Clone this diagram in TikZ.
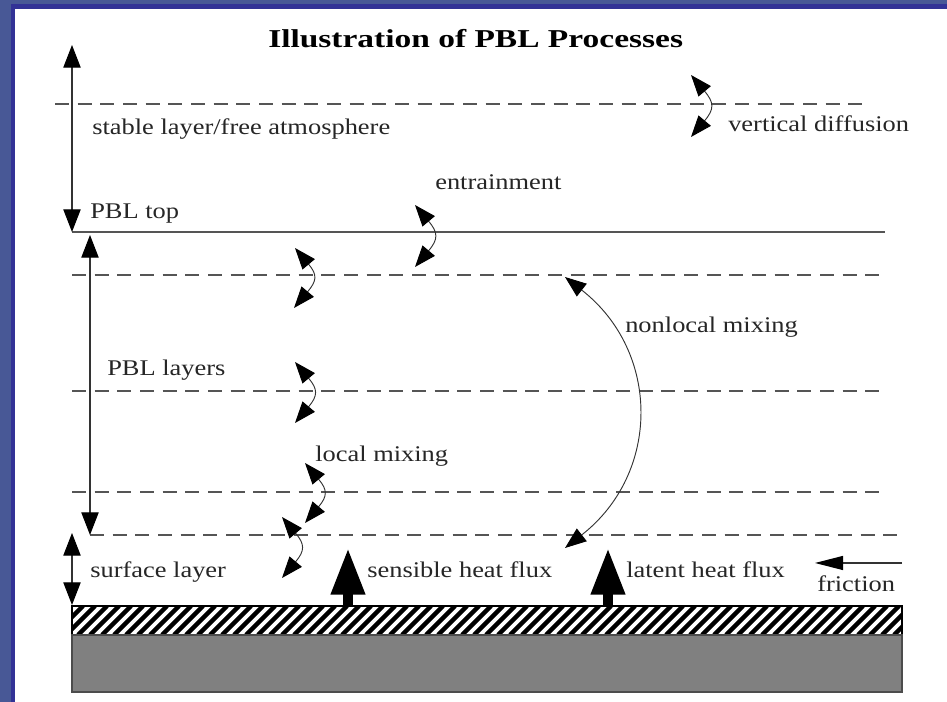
\documentclass[tikz,border=0pt]{standalone}
\usepackage{fontspec}
\setmainfont[FakeStretch=1.18]{Liberation Serif}
\newfontfamily\titlefont[FakeStretch=1.3]{Liberation Serif}
\usetikzlibrary{arrows.meta}
\definecolor{slideblue}{RGB}{72,88,150}
\definecolor{frameblue}{RGB}{50,50,150}
\definecolor{linegray}{RGB}{85,85,85}
\definecolor{groundgray}{RGB}{128,128,128}

\begin{document}
\begin{tikzpicture}[x=0.75pt,y=0.75pt,
    txt/.style={anchor=base west, inner sep=0pt, text=black!85,
      font=\fontsize{16.8}{20}\selectfont},
    dashline/.style={draw=linegray, line width=0.9pt, dash pattern=on 10.5pt off 6.5pt},
    bigspan/.style={draw=black!80, line width=0.8pt,
      {Triangle[length=17pt,width=13pt,color=black]}-{Triangle[length=17pt,width=13pt,color=black]}},
    mix/.style={draw=black!80, line width=0.7pt, out=-50, in=50, looseness=1.5,
      {Triangle[length=16pt,width=12pt,color=black]}-{Triangle[length=16pt,width=12pt,color=black]}},
    flux/.style={draw=black, line width=7.5pt, -{Triangle[length=35pt,width=24pt]}},
    drag/.style={draw=black!80, line width=0.8pt, -{Triangle[length=21pt,width=10.5pt,color=black]}}]
  % slide frame
  \useasboundingbox (0,0) rectangle (947,702);
  \fill[slideblue] (0,0) rectangle (947,702);
  \fill[frameblue] (11,0) rectangle (947,698);
  \fill[white] (15,0) rectangle (947,693);

  % ground
  \begin{scope}
    \clip (72,67) rectangle (902,96);
    \foreach \x in {30,42,...,910}
      \draw[line width=3.4pt] (\x,67) -- ++(29,29);
  \end{scope}
  \draw[line width=0.8pt] (72,67) rectangle (902,96);
  \filldraw[fill=groundgray, draw=black!70, line width=0.8pt] (72,10) rectangle (902,67);

  % layer lines
  \foreach \y/\a/\b in {598/55/868, 427/72/885, 311/72/885, 210/72/885, 167/90/903}
    \draw[dashline] (\a,\y) -- (\b,\y);
  \draw[linegray, line width=0.9pt] (72,470) -- (885,470);

  % labels
  \node[anchor=base west, inner sep=0pt, text=black,
    font=\titlefont\bfseries\fontsize{19.3}{23}\selectfont] (title) at (268,654)
    {Illustration of PBL Processes};
  \begin{scope}[every node/.style={txt}]
    \node (stable) at (92,567) {stable layer/free atmosphere};
    \node (vdiff) at (728,570) {vertical diffusion};
    \node (entr) at (435,512) {entrainment};
    \node (top) at (90,483) {PBL top};
    \node (nonlocal) at (625,369) {nonlocal mixing};
    \node (layers) at (107,326) {PBL layers};
    \node (local) at (315,240) {local mixing};
    \node (surface) at (90,124) {surface layer};
    \node (sensible) at (367,124) {sensible heat flux};
    \node (latent) at (626,124) {latent heat flux};
    \node (friction) at (817,110) {friction};
  \end{scope}

  % arrow ends
  \coordinate (st1) at (72,657);  \coordinate (st2) at (72,470);
  \coordinate (pl1) at (90,467);  \coordinate (pl2) at (90,167);
  \coordinate (sf1) at (72,169);  \coordinate (sf2) at (72,97);
  \coordinate (vd1) at (691,627); \coordinate (vd2) at (691,565);
  \coordinate (en1) at (415,497); \coordinate (en2) at (415,435);
  \coordinate (la1) at (295,454); \coordinate (la2) at (294,394);
  \coordinate (lb1) at (295,340); \coordinate (lb2) at (295,279);
  \coordinate (lc1) at (305,239); \coordinate (lc2) at (305,179);
  \coordinate (ld1) at (282,185); \coordinate (ld2) at (282,124);
  \coordinate (nl1) at (565,425); \coordinate (nl2) at (565,154);
  \coordinate (sh0) at (348,96);  \coordinate (sh1) at (348,154);
  \coordinate (lh0) at (608,96);  \coordinate (lh1) at (608,154);
  \coordinate (fr0) at (902,139); \coordinate (fr1) at (815,139);

  \path (st1) edge[bigspan] (st2)
        (pl1) edge[bigspan] (pl2)
        (sf1) edge[bigspan] (sf2);
  \path (vd1) edge[mix] (vd2)
        (en1) edge[mix] (en2)
        (la1) edge[mix] (la2)
        (lb1) edge[mix] (lb2)
        (lc1) edge[mix] (lc2)
        (ld1) edge[mix] (ld2);
  \path (nl1) edge[mix, out=-38, in=38, looseness=1.15] (nl2);
  \path (sh0) edge[flux] (sh1)
        (lh0) edge[flux] (lh1)
        (fr0) edge[drag] (fr1);
\end{tikzpicture}
\end{document}
